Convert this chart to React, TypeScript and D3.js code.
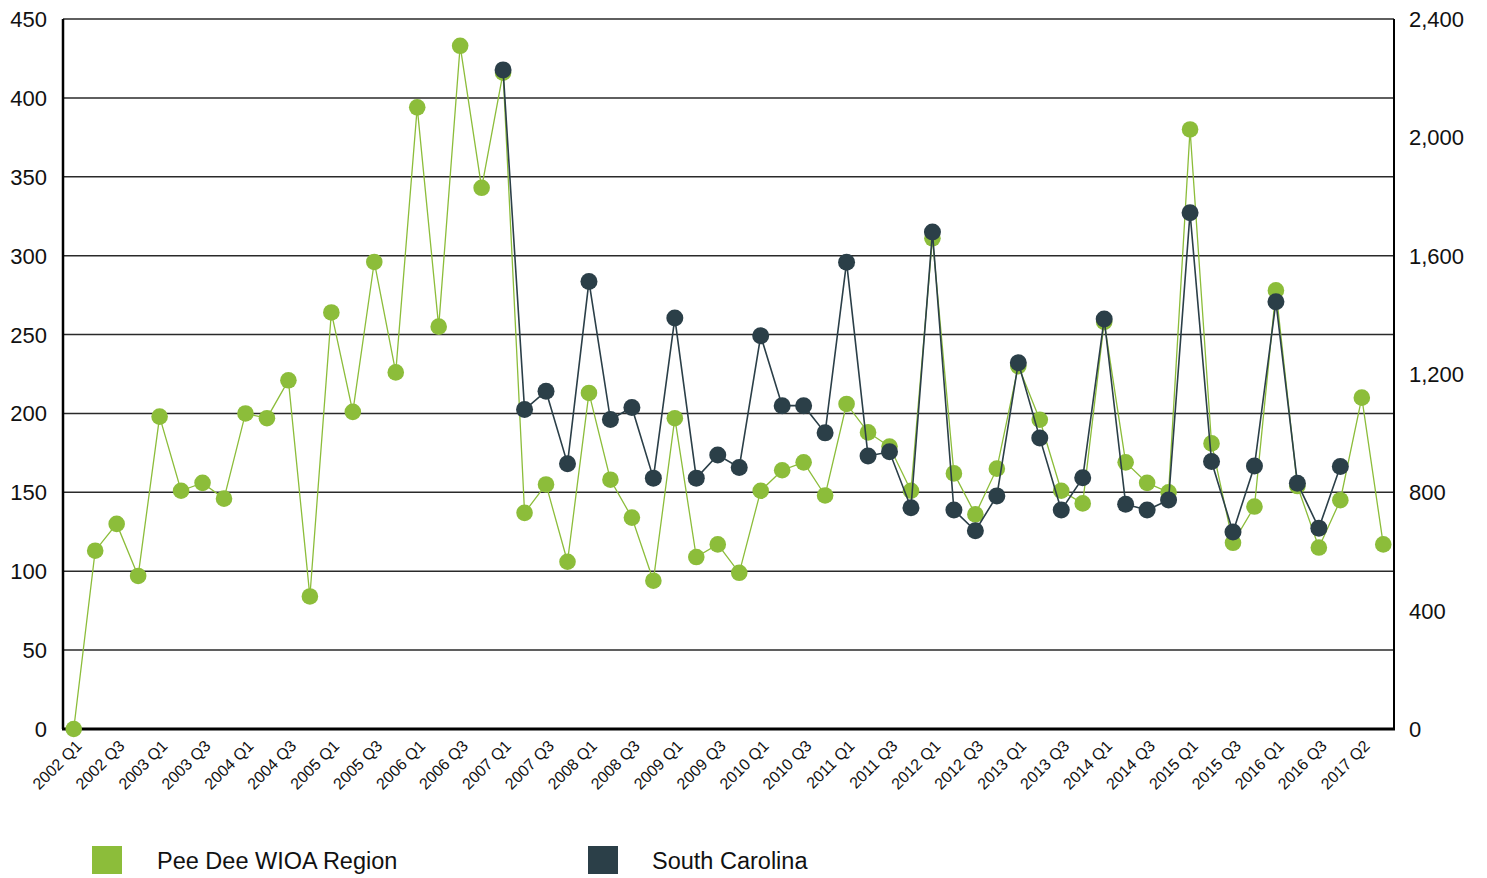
import React, { useEffect, useRef } from 'react';
import * as d3 from 'd3';

// quarters 2002 Q1 .. 2017 Q2
const quarters: string[] = [];
for (let y = 2002; y <= 2017; y++) {
  for (let q = 1; q <= 4; q++) {
    if (y === 2017 && q > 2) break;
    quarters.push(`${y} Q${q}`);
  }
}

// labels shown under every second category
const tickLabels = [
  '2002 Q1', '2002 Q3', '2003 Q1', '2003 Q3', '2004 Q1', '2004 Q3', '2005 Q1', '2005 Q3',
  '2006 Q1', '2006 Q3', '2007 Q1', '2007 Q3', '2008 Q1', '2008 Q3', '2009 Q1', '2009 Q3',
  '2010 Q1', '2010 Q3', '2011 Q1', '2011 Q3', '2012 Q1', '2012 Q3', '2013 Q1', '2013 Q3',
  '2014 Q1', '2014 Q3', '2015 Q1', '2015 Q3', '2016 Q1', '2016 Q3', '2017 Q2',
];

// Pee Dee WIOA Region (left axis)
const peeDee = [
  0, 113, 130, 97, 198, 151, 156, 146, 200, 197, 221, 84, 264, 201, 296, 226,
  394, 255, 433, 343, 416, 137, 155, 106, 213, 158, 134, 94, 197, 109, 117, 99,
  151, 164, 169, 148, 206, 188, 179, 151, 311, 162, 136, 165, 230, 196, 151, 143,
  258, 169, 156, 150, 380, 181, 118, 141, 278, 154, 115, 145, 210, 117,
];

// South Carolina (right axis), starts at 2007 Q1
const scStart = 20;
const southCarolina = [
  2228, 1080, 1142, 897, 1513, 1046, 1087, 848, 1389, 848, 926, 884,
  1329, 1093, 1093, 1001, 1578, 923, 937, 748, 1680, 740, 670, 788,
  1238, 984, 740, 849, 1386, 760, 740, 774, 1745, 904, 666, 889,
  1444, 831, 679, 887,
];

const leftTicks = [0, 50, 100, 150, 200, 250, 300, 350, 400, 450];
const rightTicks = [0, 400, 800, 1200, 1600, 2000, 2400];

const GREEN = '#8cbd3a';
const DARK = '#2b3f48';
const FONT = '"Liberation Sans", Arial, sans-serif';

const App: React.FC = () => {
  const svgRef = useRef<SVGSVGElement>(null);

  useEffect(() => {
    if (!svgRef.current) return;
    const svg = d3.select(svgRef.current);
    svg.selectAll('*').remove();

    const width = 1487;
    const height = 878;
    const margin = { top: 19, right: 93, bottom: 149, left: 63 };
    const innerW = width - margin.left - margin.right;
    const innerH = height - margin.top - margin.bottom;

    svg.attr('width', width).attr('height', height).style('font-family', FONT);
    const g = svg.append('g').attr('transform', `translate(${margin.left},${margin.top})`);

    const x = d3.scalePoint<string>().domain(quarters).range([0, innerW]).padding(0.5);
    const yL = d3.scaleLinear().domain([0, 450]).range([innerH, 0]);
    const yR = d3.scaleLinear().domain([0, 2400]).range([innerH, 0]);

    // grid lines
    g.append('g')
      .selectAll('line')
      .data(leftTicks.slice(1))
      .enter()
      .append('line')
      .attr('x1', 0)
      .attr('x2', innerW)
      .attr('y1', d => yL(d))
      .attr('y2', d => yL(d))
      .attr('stroke', '#2a2a2a')
      .attr('stroke-width', 1.5);

    // left axis labels
    g.append('g')
      .selectAll('text')
      .data(leftTicks)
      .enter()
      .append('text')
      .attr('x', -16)
      .attr('y', d => yL(d) + 8)
      .attr('text-anchor', 'end')
      .attr('font-size', 22)
      .attr('fill', '#111')
      .text(d => d);

    // right axis labels
    g.append('g')
      .selectAll('text')
      .data(rightTicks)
      .enter()
      .append('text')
      .attr('x', innerW + 15)
      .attr('y', d => yR(d) + 8)
      .attr('text-anchor', 'start')
      .attr('font-size', 22)
      .attr('fill', '#111')
      .text(d => d3.format(',')(d));

    // axis lines
    g.append('line')
      .attr('x1', 0).attr('x2', 0).attr('y1', 0).attr('y2', innerH)
      .attr('stroke', '#000').attr('stroke-width', 2.5);
    g.append('line')
      .attr('x1', innerW).attr('x2', innerW).attr('y1', 0).attr('y2', innerH)
      .attr('stroke', '#000').attr('stroke-width', 2);
    g.append('line')
      .attr('x1', -1).attr('x2', innerW + 1).attr('y1', innerH).attr('y2', innerH)
      .attr('stroke', '#000').attr('stroke-width', 3);

    // category labels, every second quarter
    g.append('g')
      .selectAll('text')
      .data(tickLabels)
      .enter()
      .append('text')
      .attr('transform', (d, i) => `translate(${(x(quarters[i * 2]) || 0) + 9},${innerH + 18}) rotate(-45)`)
      .attr('text-anchor', 'end')
      .attr('font-size', 16)
      .attr('fill', '#111')
      .text(d => d);

    // Pee Dee series
    const pdData = peeDee.map((v, i) => ({ q: quarters[i], v }));
    const pdLine = d3.line<{ q: string; v: number }>()
      .x(d => x(d.q) || 0)
      .y(d => yL(d.v));
    g.append('path')
      .datum(pdData)
      .attr('fill', 'none')
      .attr('stroke', GREEN)
      .attr('stroke-width', 1.3)
      .attr('d', pdLine);
    g.append('g')
      .selectAll('circle')
      .data(pdData)
      .enter()
      .append('circle')
      .attr('cx', d => x(d.q) || 0)
      .attr('cy', d => yL(d.v))
      .attr('r', 8.3)
      .attr('fill', GREEN);

    // South Carolina series
    const scData = southCarolina.map((v, i) => ({ q: quarters[scStart + i], v }));
    const scLine = d3.line<{ q: string; v: number }>()
      .x(d => x(d.q) || 0)
      .y(d => yR(d.v));
    g.append('path')
      .datum(scData)
      .attr('fill', 'none')
      .attr('stroke', DARK)
      .attr('stroke-width', 1.6)
      .attr('d', scLine);
    g.append('g')
      .selectAll('circle')
      .data(scData)
      .enter()
      .append('circle')
      .attr('cx', d => x(d.q) || 0)
      .attr('cy', d => yR(d.v))
      .attr('r', 8.5)
      .attr('fill', DARK);

    // legend
    const legend = [
      { label: 'Pee Dee WIOA Region', color: GREEN, x: 92, tx: 157 },
      { label: 'South Carolina', color: DARK, x: 588, tx: 652 },
    ];
    const lg = svg.append('g');
    legend.forEach(l => {
      lg.append('rect')
        .attr('x', l.x).attr('y', 846).attr('width', 30).attr('height', 28)
        .attr('fill', l.color);
      lg.append('text')
        .attr('x', l.tx).attr('y', 869)
        .attr('font-size', 23.5)
        .attr('fill', '#111')
        .text(l.label);
    });
  }, []);

  return (
    <div style={{ position: 'absolute', left: 0, top: 0, background: '#fff' }}>
      <svg ref={svgRef} style={{ display: 'block' }}></svg>
    </div>
  );
};

export default App;
